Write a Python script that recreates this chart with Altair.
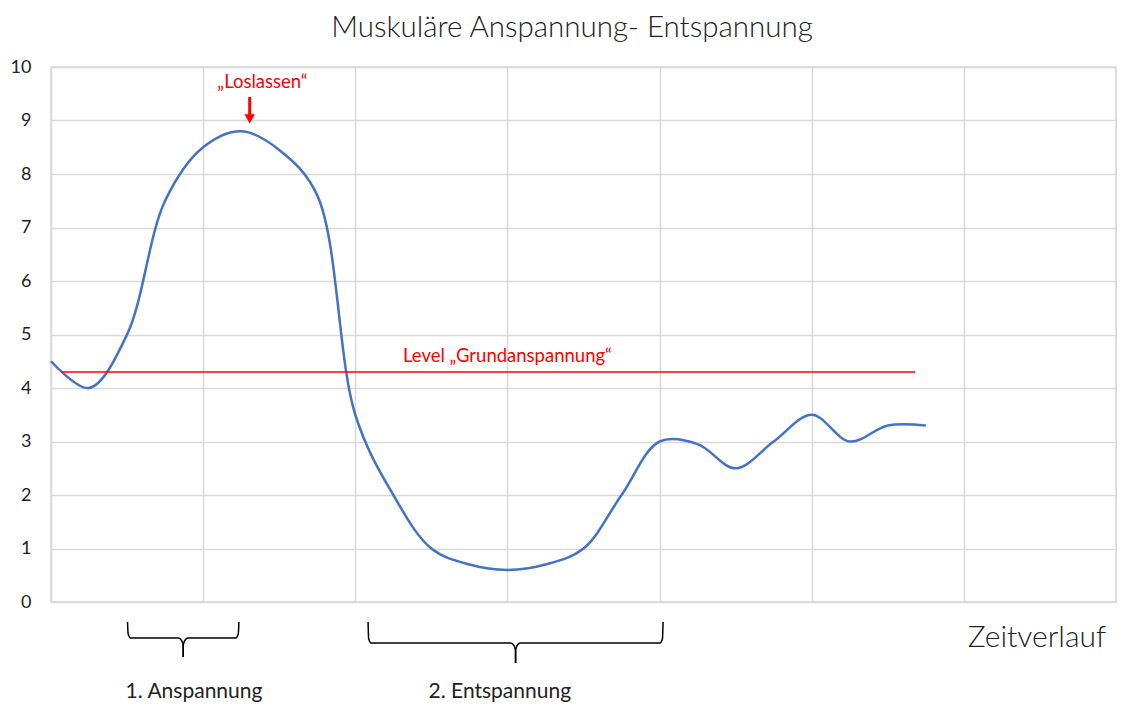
import altair as alt
import pandas as pd

# ---- data ----
time_x = [0, 0.25, 0.5, 0.75, 1.0, 1.25, 1.5, 1.75, 2.0, 2.25, 2.5, 2.75, 3.0,
          3.25, 3.5, 3.75, 4.0, 4.25, 4.5, 4.75, 5.0, 5.25, 5.5, 5.75]
tension = [4.5, 4.0, 5.0, 7.5, 8.5, 8.8, 8.45, 7.6, 3.5, 2.0, 1.0, 0.7, 0.6,
           0.7, 1.0, 2.0, 3.0, 2.95, 2.5, 3.0, 3.5, 3.0, 3.3, 3.3]

baseline_level = 4.3
baseline_span = [0.07, 5.68]
letgo_x = 1.306

phase_labels = ["1. Anspannung", "2. Entspannung"]
phase_start = [0.503, 2.084]
phase_end = [1.235, 4.023]

FONT = "Lato"

df = pd.DataFrame({"t": time_x, "v": tension})

x_scale = alt.Scale(domain=[0, 7], nice=False, zero=False)
y_scale = alt.Scale(domain=[0, 10], nice=False)

base = alt.Chart(df)

curve = base.mark_line(color="#4472C4", strokeWidth=2.5, interpolate="catmull-rom").encode(
    x=alt.X("t:Q", scale=x_scale,
            axis=alt.Axis(values=list(range(0, 8)), labels=False, ticks=False, domain=False,
                          grid=True, gridColor="#d9d9d9", gridWidth=1.5, title=None)),
    y=alt.Y("v:Q", scale=y_scale,
            axis=alt.Axis(values=list(range(0, 11)), ticks=False, domain=False, grid=True,
                          gridColor="#d9d9d9", gridWidth=1.5, labelFontSize=18,
                          labelFont=FONT, labelColor="#222222", labelPadding=20, title=None)),
)

# baseline level
base_df = pd.DataFrame({"x": [baseline_span[0]], "x2": [baseline_span[1]], "y": [baseline_level]})
base_rule = alt.Chart(base_df).mark_rule(color="#ff0000", strokeWidth=1.5).encode(
    x=alt.X("x:Q", scale=x_scale), x2="x2:Q", y=alt.Y("y:Q", scale=y_scale))

texts_df = pd.DataFrame({
    "x": [3.0, 1.39],
    "y": [4.6, 9.72],
    "label": ["Level \u201eGrundanspannung\u201c", "\u201eLoslassen\u201c"],
})
red_texts = alt.Chart(texts_df).mark_text(color="#ff0000", fontSize=18.5, font=FONT).encode(
    x=alt.X("x:Q", scale=x_scale), y=alt.Y("y:Q", scale=y_scale), text="label:N")

# arrow
arrow_df = pd.DataFrame({"x": [letgo_x], "y": [9.44], "y2": [9.1]})
arrow_shaft = alt.Chart(arrow_df).mark_rule(color="#ff0000", strokeWidth=3).encode(
    x=alt.X("x:Q", scale=x_scale), y=alt.Y("y:Q", scale=y_scale), y2="y2:Q")
head_df = pd.DataFrame({"x": [letgo_x], "y": [9.03]})
arrow_head = alt.Chart(head_df).mark_point(shape="triangle-down", filled=True, color="#ff0000",
                                           size=110, opacity=1).encode(
    x=alt.X("x:Q", scale=x_scale), y=alt.Y("y:Q", scale=y_scale))

# braces below the plot
tops = [-0.374, -0.374]
mids = [-0.673, -0.766]
tips = [-1.03, -1.14]
rows = []
for i, (s, e) in enumerate(zip(phase_start, phase_end)):
    c = (s + e) / 2
    top, mid, tip = tops[i], mids[i], tips[i]
    left = [(s, top), (s + 0.004, mid + 0.08), (s + 0.02, mid), (c - 0.03, mid),
            (c - 0.008, mid - 0.06), (c, mid - 0.14), (c, tip)]
    right = [(e, top), (e - 0.004, mid + 0.08), (e - 0.02, mid), (c + 0.03, mid),
             (c + 0.008, mid - 0.06), (c, mid - 0.14), (c, tip)]
    for side, pts in (("l", left), ("r", right)):
        for k, (px, py) in enumerate(pts):
            rows.append({"g": f"{i}{side}", "o": k, "x": px, "y": py})
brace_df = pd.DataFrame(rows)
braces = alt.Chart(brace_df).mark_line(color="#000000", strokeWidth=1.5, interpolate="monotone").encode(
    x=alt.X("x:Q", scale=x_scale), y=alt.Y("y:Q", scale=y_scale), detail="g:N", order="o:Q")

phase_df = pd.DataFrame({"x": [0.94, 2.95], "y": [-1.68, -1.68], "label": phase_labels})
phase_text = alt.Chart(phase_df).mark_text(color="#222222", fontSize=21, font=FONT).encode(
    x=alt.X("x:Q", scale=x_scale), y=alt.Y("y:Q", scale=y_scale), text="label:N")

zeit_df = pd.DataFrame({"x": [6.48], "y": [-0.67], "label": ["Zeitverlauf"]})
zeit_text = alt.Chart(zeit_df).mark_text(color="#222222", fontSize=30, font=FONT,
                                         fontWeight=300).encode(
    x=alt.X("x:Q", scale=x_scale), y=alt.Y("y:Q", scale=y_scale), text="label:N")

title_df = pd.DataFrame({"x": [3.424], "y": [10.73], "label": ["Muskul\u00e4re Anspannung- Entspannung"]})
title_text = alt.Chart(title_df).mark_text(color="#222222", fontSize=29.5, font=FONT,
                                           fontWeight=300).encode(
    x=alt.X("x:Q", scale=x_scale), y=alt.Y("y:Q", scale=y_scale), text="label:N")

chart = alt.layer(curve, base_rule, red_texts, arrow_shaft, arrow_head, braces,
                  phase_text, zeit_text, title_text).properties(
    width=1065, height=535,
    autosize=alt.AutoSizeParams(type="none"),
    padding={"left": 43, "top": 59, "right": 1, "bottom": 101},
).configure_view(stroke="#d9d9d9", strokeWidth=1.5)

chart.save("out.html", embed_options={"renderer": "svg", "actions": False})
